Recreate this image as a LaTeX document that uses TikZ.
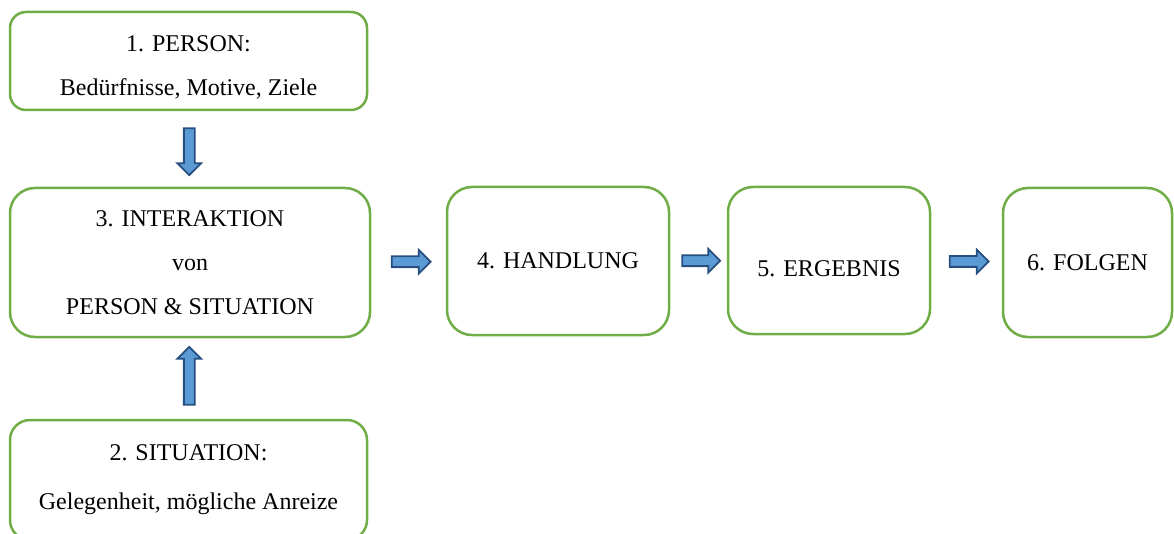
\documentclass[tikz,border=0pt]{standalone}
\usepackage{fontspec}
\setmainfont{Liberation Serif}
\usetikzlibrary{shapes.arrows,positioning,calc}

\definecolor{boxgreen}{HTML}{70AD47}
\definecolor{arrowfill}{HTML}{5B9BD5}
\definecolor{arrowline}{HTML}{264E7E}

\tikzset{
  stepbox/.style={draw=boxgreen, line width=2.5pt, fill=white, rounded corners=#1,
    align=center, inner sep=0pt, font=\fontsize{24}{44}\selectfont},
  stepbox/.default=18pt,
  blockarrow/.style={single arrow, draw=arrowline, fill=arrowfill, line width=1.8pt,
    inner xsep=0pt, inner ysep=4.5pt, single arrow head extend=6.5pt,
    single arrow head indent=0pt}
}

\begin{document}
\begin{tikzpicture}[x=1pt,y=-1pt]
  \useasboundingbox (0,0) rectangle (1174,534);

  % left column
  \node[stepbox=16pt, minimum width=357pt, minimum height=98pt] (person) at (188.5,61)
    {\rule{0pt}{29pt}1. PERSON:\\Bedürfnisse, Motive, Ziele};
  \node[stepbox=25pt, minimum width=360pt, minimum height=149pt] (inter) at (190,262.5)
    {3. INTERAKTION\\von\\PERSON \& SITUATION};
  \node[stepbox=20pt, minimum width=357pt, minimum height=120pt] (situation) at (188.5,480)
    {2. SITUATION:\\[5pt]Gelegenheit, mögliche Anreize};

  % chain to the right
  \node[stepbox=25pt, minimum width=222pt, minimum height=148pt] (handlung) at (558,261)
    {4. HANDLUNG};
  \node[stepbox=25pt, minimum width=202pt, minimum height=147pt] (ergebnis) at (829,260.5)
    {\raisebox{-8pt}[\height][\depth]{5. ERGEBNIS}};
  \node[stepbox=25pt, minimum width=169pt, minimum height=149pt] (folgen) at (1087.5,262.5)
    {6. FOLGEN};

  % block arrows
  \node[blockarrow, rotate=-90, minimum height=47pt] (pfeilA) at ($(person.south)!0.5!(inter.north)$) {};
  \node[blockarrow, rotate=90, minimum height=58pt] (pfeilB) at ($(situation.north)!0.5!(inter.south)$) {};
  \node[blockarrow, minimum height=39pt] (pfeilC) at ($(inter.east)!0.5!(handlung.west)$) {};
  \node[blockarrow, minimum height=38pt] (pfeilD) at ($(handlung.east)!0.5!(ergebnis.west)$) {};
  \node[blockarrow, minimum height=39pt] (pfeilE) at ($(ergebnis.east)!0.5!(folgen.west)$) {};
\end{tikzpicture}
\end{document}
